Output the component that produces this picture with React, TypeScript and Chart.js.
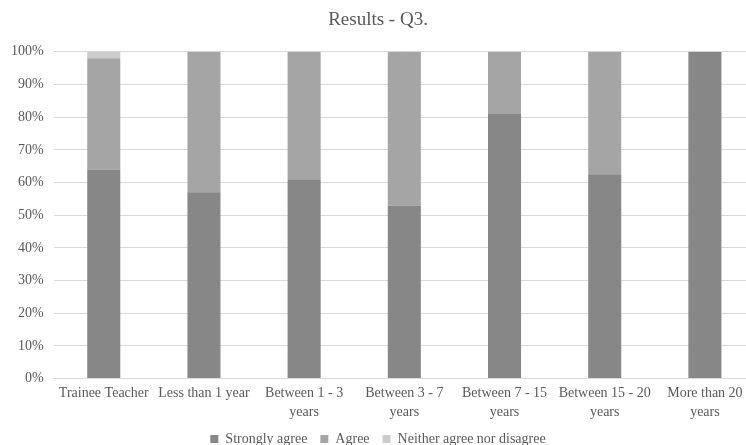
import React, { useEffect, useRef } from "react";
import { Chart, registerables } from "chart.js";

Chart.register(...registerables);

const categories: (string | string[])[] = [
  "Trainee Teacher",
  "Less than 1 year",
  ["Between 1 - 3", "years"],
  ["Between 3 - 7", "years"],
  ["Between 7 - 15", "years"],
  ["Between 15 - 20", "years"],
  ["More than 20", "years"],
];
const stronglyAgree = [64, 57, 61, 53, 81, 62.5, 100];
const agree = [34, 43, 39, 47, 19, 37.5, 0];
const neither = [2, 0, 0, 0, 0, 0, 0];
const yTicks = [0, 10, 20, 30, 40, 50, 60, 70, 80, 90, 100];

const FONT = "'Liberation Serif', 'Times New Roman', serif";
const TEXT = "#595959";

export default function App() {
  const ref = useRef<HTMLCanvasElement | null>(null);
  useEffect(() => {
    if (!ref.current) return;
    const chart = new Chart(ref.current, {
      type: "bar",
      data: {
        labels: categories,
        datasets: [
          { label: "Strongly agree", data: stronglyAgree, backgroundColor: "#878787", borderWidth: 0 },
          { label: "Agree", data: agree, backgroundColor: "#a5a5a5", borderWidth: 0 },
          { label: "Neither agree nor disagree", data: neither, backgroundColor: "#cbcbcb", borderWidth: 0 },
        ],
      },
      options: {
        responsive: false,
        animation: false,
        devicePixelRatio: 1,
        layout: { padding: { left: 1, right: 15, top: 4, bottom: -11 } },
        datasets: { bar: { barPercentage: 0.66, categoryPercentage: 0.5 } },
        plugins: {
          title: {
            display: true,
            text: "Results - Q3.",
            color: TEXT,
            font: { family: FONT, size: 19, weight: "normal" },
            padding: { top: 5, bottom: 20 },
          },
          legend: {
            position: "bottom",
            labels: {
              color: TEXT,
              font: { family: FONT, size: 14 },
              boxWidth: 8,
              boxHeight: 8,
              padding: 13,
            },
          },
          tooltip: { enabled: false },
        },
        scales: {
          x: {
            stacked: true,
            grid: { display: false },
            border: { display: true, color: "#d9d9d9" },
            ticks: {
              color: TEXT,
              font: { family: FONT, size: 14, lineHeight: 1.3 },
              maxRotation: 0,
              autoSkip: false,
              padding: -2,
            },
          },
          y: {
            stacked: true,
            min: 0,
            max: 100,
            afterBuildTicks: (axis: any) => {
              axis.ticks = yTicks.map((v) => ({ value: v }));
            },
            grid: { color: "#d9d9d9", drawTicks: false },
            border: { display: false },
            ticks: {
              color: TEXT,
              font: { family: FONT, size: 14 },
              padding: 10,
              callback: (v: any) => v + "%",
            },
          },
        },
      },
    });
    return () => chart.destroy();
  }, []);
  return (
    <div style={{ position: "absolute", left: 0, top: 0, width: 746, height: 445, overflow: "hidden", background: "#fff" }}>
      <canvas ref={ref} width={770} height={445} style={{ display: "block" }} />
    </div>
  );
}
